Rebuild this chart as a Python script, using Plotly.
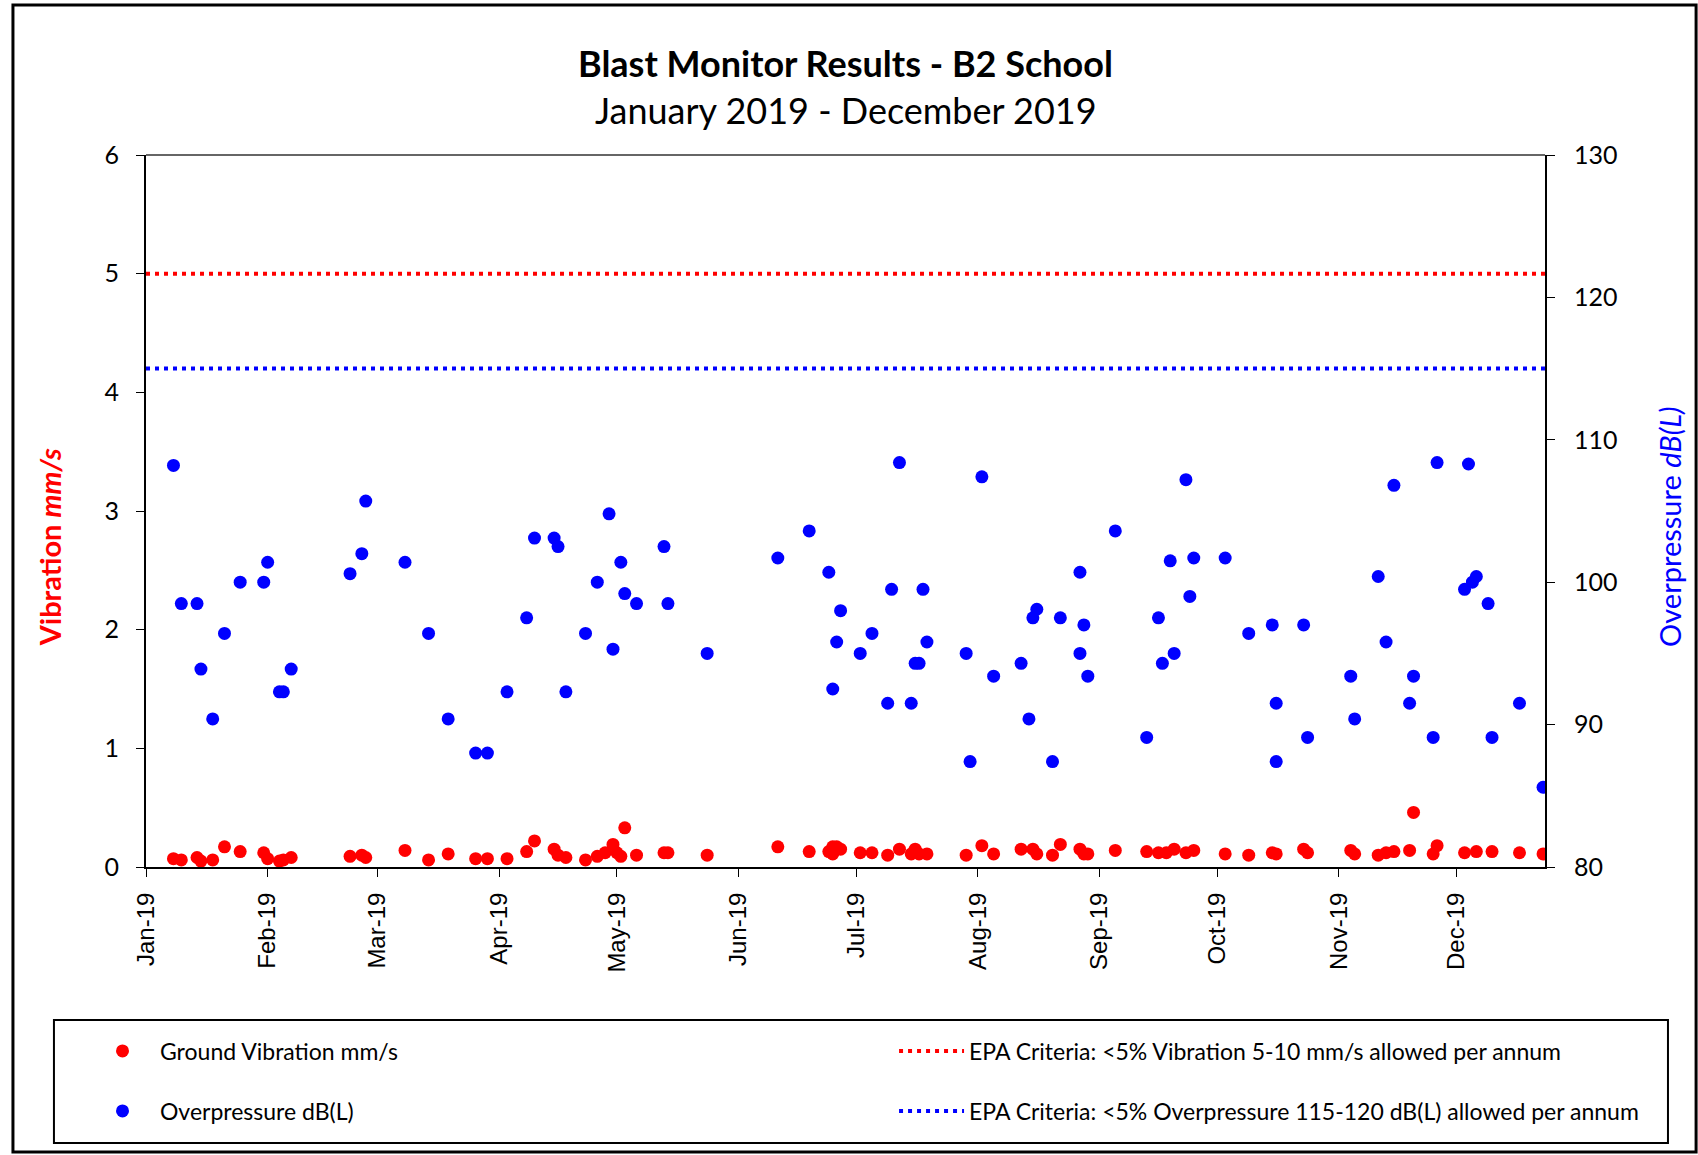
import pandas as pd
import plotly.graph_objects as go

# Blast dates as day offsets from 1 Jan 2019
vib_days = [7, 9, 13, 14, 17, 20, 24, 30, 31, 34, 35, 37, 52, 55, 56, 66, 72, 77, 84, 87,
            92, 97, 99, 104, 105, 107, 112, 115, 117, 119, 120, 121, 122, 125, 132, 133, 143,
            161, 169, 174, 175, 175, 176, 177, 182, 185, 189, 192, 195, 196, 197, 199, 209,
            213, 216, 223, 226, 227, 231, 233, 238, 239, 240, 247, 255, 258, 260, 262, 265,
            267, 275, 281, 287, 288, 295, 296, 307, 308, 314, 316, 318, 322, 323, 328, 329,
            336, 339, 343, 350, 356]
vib_mms = [0.07, 0.06, 0.08, 0.05, 0.06, 0.17, 0.13, 0.12, 0.07, 0.05, 0.06, 0.08, 0.09, 0.10,
           0.08, 0.14, 0.06, 0.11, 0.07, 0.07, 0.07, 0.13, 0.22, 0.15, 0.10, 0.08, 0.06, 0.09,
           0.12, 0.19, 0.12, 0.09, 0.33, 0.10, 0.12, 0.12, 0.10, 0.17, 0.13, 0.13, 0.17, 0.11,
           0.17, 0.15, 0.12, 0.12, 0.10, 0.15, 0.11, 0.15, 0.11, 0.11, 0.10, 0.18, 0.11, 0.15,
           0.15, 0.11, 0.10, 0.19, 0.15, 0.11, 0.11, 0.14, 0.13, 0.12, 0.12, 0.15, 0.12, 0.14,
           0.11, 0.10, 0.12, 0.11, 0.15, 0.12, 0.14, 0.11, 0.10, 0.12, 0.13, 0.14, 0.46, 0.11,
           0.18, 0.12, 0.13, 0.13, 0.12, 0.11]

op_days = [7, 9, 13, 14, 17, 20, 24, 30, 31, 34, 35, 37, 52, 55, 56, 66, 72, 77, 84, 87, 92,
           97, 99, 104, 105, 107, 112, 115, 118, 119, 121, 122, 125, 132, 133, 143, 161, 169,
           174, 175, 176, 177, 182, 185, 189, 190, 192, 195, 196, 197, 198, 199, 209, 210, 213,
           216, 223, 225, 226, 227, 231, 233, 238, 238, 239, 240, 247, 255, 258, 259, 261, 262,
           265, 266, 267, 275, 281, 287, 288, 288, 295, 296, 307, 308, 314, 316, 318, 322, 323,
           328, 329, 336, 337, 338, 339, 342, 343, 350, 356]
op_db = [108.2, 98.5, 98.5, 93.9, 90.4, 96.4, 100.0, 100.0, 101.4, 92.3, 92.3, 93.9, 100.6,
         102.0, 105.7, 101.4, 96.4, 90.4, 88.0, 88.0, 92.3, 97.5, 103.1, 103.1, 102.5, 92.3,
         96.4, 100.0, 104.8, 95.3, 101.4, 99.2, 98.5, 102.5, 98.5, 95.0, 101.7, 103.6, 100.7,
         92.5, 95.8, 98.0, 95.0, 96.4, 91.5, 99.5, 108.4, 91.5, 94.3, 94.3, 99.5, 95.8, 95.0,
         87.4, 107.4, 93.4, 94.3, 90.4, 97.5, 98.1, 87.4, 97.5, 100.7, 95.0, 97.0, 93.4, 103.6,
         89.1, 97.5, 94.3, 101.5, 95.0, 107.2, 99.0, 101.7, 101.7, 96.4, 97.0, 91.5, 87.4, 97.0,
         89.1, 93.4, 90.4, 100.4, 95.8, 106.8, 91.5, 93.4, 89.1, 108.4, 99.5, 108.3, 100.0,
         100.4, 98.5, 89.1, 91.5, 85.6]

# EPA criteria
vib_limit = 5
op_limit = 115

x_start = "2019-01-01"
x_end = "2019-12-23 12:00"

start = pd.Timestamp("2019-01-01")
vib_dates = start + pd.to_timedelta(vib_days, unit="D")
op_dates = start + pd.to_timedelta(op_days, unit="D")

RED = "#FF0000"
BLUE = "#0000FF"
FONT = "Lato"

fig = go.Figure()

fig.add_trace(go.Scatter(x=vib_dates, y=vib_mms, mode="markers", name="Ground Vibration mm/s",
                         marker=dict(color=RED, size=13, line=dict(width=0)), legend="legend"))
fig.add_trace(go.Scatter(x=[x_start, x_end], y=[vib_limit, vib_limit], mode="lines",
                         name="EPA Criteria: &lt;5% Vibration 5-10 mm/s allowed per annum",
                         line=dict(color=RED, width=4, dash="4px,5px"), legend="legend2"))
fig.add_trace(go.Scatter(x=op_dates, y=op_db, mode="markers", name="Overpressure dB(L)",
                         marker=dict(color=BLUE, size=13, line=dict(width=0)), yaxis="y2",
                         legend="legend3"))
fig.add_trace(go.Scatter(x=[x_start, x_end], y=[op_limit, op_limit], mode="lines",
                         name="EPA Criteria: &lt;5% Overpressure 115-120 dB(L) allowed per annum",
                         line=dict(color=BLUE, width=4, dash="4px,5px"), yaxis="y2",
                         legend="legend4"))

# one legend per entry so the 2x2 layout of the original can be placed exactly
leg = dict(xanchor="left", yanchor="middle", itemwidth=65, bgcolor="rgba(0,0,0,0)",
           borderwidth=0, font=dict(family=FONT, size=23, color="black"))
row1, row2 = -0.2584, -0.3427
col1, col2 = -0.0436, 0.5347

fig.update_layout(
    width=1698, height=1155,
    margin=dict(l=146, r=153, t=155, b=288, autoexpand=False),
    paper_bgcolor="white", plot_bgcolor="white",
    font=dict(family=FONT, color="black"),
    showlegend=True,
    legend=dict(leg, x=col1, y=row1),
    legend2=dict(leg, x=col2, y=row1),
    legend3=dict(leg, x=col1, y=row2),
    legend4=dict(leg, x=col2, y=row2),
    xaxis=dict(type="date", range=[x_start, x_end], tick0="2019-01-01", dtick="M1",
               tickformat="%b-%y", tickangle=-90, showgrid=False, zeroline=False,
               showline=True, linecolor="black", linewidth=2, ticks="outside", ticklen=8,
               tickcolor="black", tickfont=dict(family="Liberation Sans", size=24),
               ticklabelstandoff=6),
    yaxis=dict(range=[0, 6], dtick=1, showgrid=False, zeroline=False, showline=True,
               linecolor="black", linewidth=2, ticks="outside", ticklen=8, tickcolor="black",
               tickfont=dict(size=25), ticklabelstandoff=12),
    yaxis2=dict(range=[80, 130], dtick=10, overlaying="y", side="right", showgrid=False,
                zeroline=False, showline=True, linecolor="black", linewidth=2,
                ticks="outside", ticklen=8, tickcolor="black", tickfont=dict(size=25),
                ticklabelstandoff=14),
    shapes=[
        # top edge of the plot box
        dict(type="line", xref="paper", yref="paper", x0=0, x1=1, y0=1, y1=1,
             line=dict(color="#666666", width=2)),
        # legend box
        dict(type="rect", xref="paper", yref="paper", x0=-0.0658, x1=1.0879,
             y0=-0.3876, y1=-0.2149, line=dict(color="black", width=2)),
        # outer chart border
        dict(type="rect", xref="paper", yref="paper", x0=-0.0951, x1=1.108,
             y0=-0.4003, y1=1.2107, line=dict(color="black", width=3)),
    ],
    annotations=[
        dict(text="<b>Blast Monitor Results - B2 School</b>", xref="paper", yref="paper",
             x=0.5, y=1.129, showarrow=False, xanchor="center", yanchor="middle",
             font=dict(size=36)),
        dict(text="January 2019 - December 2019", xref="paper", yref="paper",
             x=0.5, y=1.063, showarrow=False, xanchor="center", yanchor="middle",
             font=dict(size=36)),
        dict(text="<b>Vibration <i>mm/s</i></b>", xref="paper", yref="paper",
             x=-0.0693, y=0.449, showarrow=False, textangle=-90, xanchor="center",
             yanchor="middle", font=dict(size=29, color=RED)),
        dict(text="Overpressure <i>dB(L)</i>", xref="paper", yref="paper",
             x=1.089, y=0.477, showarrow=False, textangle=-90, xanchor="center",
             yanchor="middle", font=dict(size=29, color=BLUE)),
    ],
)

# drop the page's default body margin so the figure sits at the window origin
fig.write_html("out.html", config={"displayModeBar": False},
               post_script="document.body.style.margin='0';")
